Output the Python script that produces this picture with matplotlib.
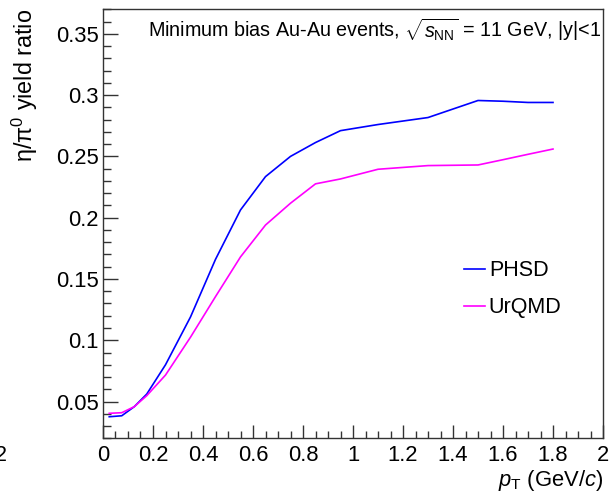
import matplotlib
matplotlib.use("Agg")
import matplotlib.pyplot as plt
from matplotlib.ticker import MultipleLocator

plt.rcParams['font.family'] = ['Liberation Sans', 'DejaVu Sans']
plt.rcParams['mathtext.fontset'] = 'custom'
plt.rcParams['mathtext.rm'] = 'Liberation Sans'
plt.rcParams['mathtext.it'] = 'Liberation Sans:italic'
plt.rcParams['mathtext.bf'] = 'Liberation Sans:bold'

# pT bin centres (GeV/c)
pt = [0.025, 0.075, 0.125, 0.175, 0.25, 0.35, 0.45, 0.55, 0.65, 0.75,
      0.85, 0.95, 1.1, 1.3, 1.5, 1.6, 1.7, 1.8]
# eta/pi0 yield ratio
phsd = [0.0376, 0.0384, 0.0458, 0.0561, 0.080, 0.119, 0.166, 0.2063, 0.2335,
        0.250, 0.2613, 0.271, 0.276, 0.2817, 0.2956, 0.295, 0.294, 0.294]
urqmd = [0.0404, 0.0409, 0.0458, 0.0548, 0.0716, 0.1025, 0.1356, 0.168, 0.194,
         0.2118, 0.2276, 0.2316, 0.2395, 0.2425, 0.243, 0.2473, 0.2517, 0.256]

fig = plt.figure(figsize=(6.12, 4.92), dpi=100)
ax = fig.add_axes([0.1683, 0.1091, 0.8170, 0.8720])

ax.plot(pt, phsd, color='#0000ff', lw=1.2, label='PHSD')
ax.plot(pt, urqmd, color='#ff00ff', lw=1.2, label='UrQMD')

ax.set_xlim(0, 2)
ax.set_ylim(0.02, 0.37)
ax.xaxis.set_minor_locator(MultipleLocator(0.05))
ax.yaxis.set_minor_locator(MultipleLocator(0.01))
ax.set_xticks([0, 0.2, 0.4, 0.6, 0.8, 1, 1.2, 1.4, 1.6, 1.8, 2])
ax.set_xticklabels(['0', '0.2', '0.4', '0.6', '0.8', '1', '1.2', '1.4', '1.6', '1.8', '2'])
ax.set_yticks([0.05, 0.1, 0.15, 0.2, 0.25, 0.3, 0.35])
ax.set_yticklabels(['0.05', '0.1', '0.15', '0.2', '0.25', '0.3', '0.35'])

ax.tick_params(which='both', direction='in', colors='#333333', labelcolor='black',
               labelsize=15.8, width=1.0)
ax.tick_params(axis='y', which='major', length=11, pad=3)
ax.tick_params(axis='y', which='minor', length=5.5)
ax.tick_params(axis='x', which='major', length=9.5, pad=5)
ax.tick_params(axis='x', which='minor', length=5)
for s in ax.spines.values():
    s.set_color('#333333')
    s.set_linewidth(1.0)

ax.set_xlabel(r'$p_{\mathrm{T}}$ (GeV/$c$)', fontsize=15.8, loc='right')
ax.xaxis.set_label_coords(1.0, -0.07)
ax.set_ylabel(r'η/π$^{0}$ yield ratio', fontsize=16.8, loc='top')
ax.yaxis.set_label_coords(-0.125, 1.0)

ax.text(0.996, 0.953, r'Minimum bias Au-Au events, $\sqrt{s_{\mathrm{NN}}}$ = 11 GeV, |y|<1',
        transform=ax.transAxes, ha='right', va='center', fontsize=14.2)

ax.legend(loc='upper left', bbox_to_anchor=(0.705, 0.435), frameon=False,
          fontsize=15.5, handlelength=0.95, handletextpad=0.2, labelspacing=0.75,
          borderaxespad=0)

fig.text(-0.008, 0.063, '2', fontsize=15.5)

fig.savefig('out.png', dpi=100)
